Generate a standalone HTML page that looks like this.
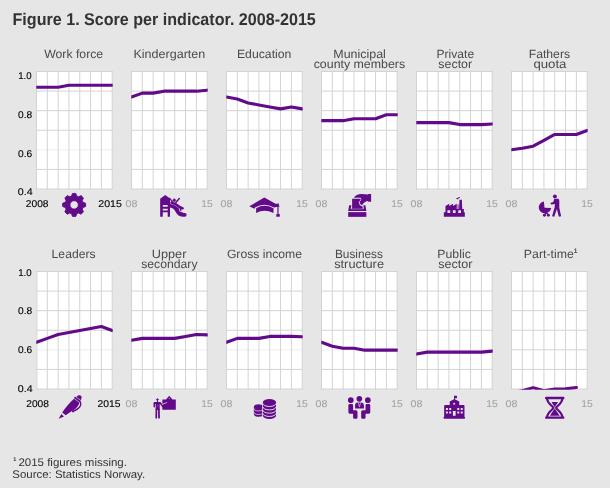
<!DOCTYPE html>
<html><head><meta charset="utf-8"><title>Figure 1. Score per indicator. 2008-2015</title>
<style>html,body{margin:0;padding:0;background:#e6e6e6;}body{width:610px;height:488px;overflow:hidden;font-family:"Liberation Sans",sans-serif;}svg{display:block;will-change:transform;}text{font-family:"Liberation Sans",sans-serif;text-rendering:geometricPrecision;}</style>
</head><body>
<svg width="610" height="488" viewBox="0 0 610 488">
<rect x="0" y="0" width="610" height="488" fill="#e6e6e6"/>
<text x="12.54" y="24.90" font-size="17" fill="#333333" text-anchor="start" textLength="303.28" lengthAdjust="spacingAndGlyphs" font-weight="bold">Figure 1. Score per indicator. 2008-2015</text>
<defs>
<clipPath id="cp0_0"><rect x="36.30" y="68.50" width="76.40" height="121.30"/></clipPath>
<clipPath id="cp0_1"><rect x="131.30" y="68.50" width="76.40" height="121.30"/></clipPath>
<clipPath id="cp0_2"><rect x="226.30" y="68.50" width="76.40" height="121.30"/></clipPath>
<clipPath id="cp0_3"><rect x="321.30" y="68.50" width="76.40" height="121.30"/></clipPath>
<clipPath id="cp0_4"><rect x="416.30" y="68.50" width="76.40" height="121.30"/></clipPath>
<clipPath id="cp0_5"><rect x="511.30" y="68.50" width="76.40" height="121.30"/></clipPath>
<clipPath id="cp1_0"><rect x="36.30" y="268.50" width="76.40" height="121.30"/></clipPath>
<clipPath id="cp1_1"><rect x="131.30" y="268.50" width="76.40" height="121.30"/></clipPath>
<clipPath id="cp1_2"><rect x="226.30" y="268.50" width="76.40" height="121.30"/></clipPath>
<clipPath id="cp1_3"><rect x="321.30" y="268.50" width="76.40" height="121.30"/></clipPath>
<clipPath id="cp1_4"><rect x="416.30" y="268.50" width="76.40" height="121.30"/></clipPath>
<clipPath id="cp1_5"><rect x="511.30" y="268.50" width="76.40" height="121.30"/></clipPath>
</defs>
<rect x="36.50" y="71.50" width="75.70" height="117.50" fill="#ffffff"/>
<path d="M36.50 149.83H112.20" stroke="#d3d3d3" stroke-width="1" stroke-opacity="0.4" fill="none"/>
<path d="M36.50 71.00V189.50M47.31 71.00V189.50M58.13 71.00V189.50M68.94 71.00V189.50M79.76 71.00V189.50M90.57 71.00V189.50M101.39 71.00V189.50M112.20 71.00V189.50M36.00 71.50H112.70M36.00 91.08H112.70M36.00 110.67H112.70M36.00 130.25H112.70M36.00 169.42H112.70M36.00 189.00H112.70" stroke="#d3d3d3" stroke-width="1" fill="none"/>
<polyline points="36.50,87.23 47.31,87.23 58.13,87.23 68.94,85.27 79.76,85.27 90.57,85.27 101.39,85.27 112.20,85.27" fill="none" stroke="#620a8a" stroke-width="3.1" stroke-linejoin="round" stroke-linecap="round" clip-path="url(#cp0_0)"/>
<text x="73.66" y="57.55" font-size="12" fill="#4a4a4a" text-anchor="middle" textLength="59.00" lengthAdjust="spacingAndGlyphs">Work force</text>
<text x="37.17" y="206.80" font-size="9.8" fill="#000000" text-anchor="middle" textLength="22.73" lengthAdjust="spacingAndGlyphs" stroke="#000000" stroke-width="0.12">2008</text>
<text x="110.06" y="206.80" font-size="9.8" fill="#000000" text-anchor="middle" textLength="23.49" lengthAdjust="spacingAndGlyphs" stroke="#000000" stroke-width="0.12">2015</text>
<text x="31.66" y="78.75" font-size="9.8" fill="#000000" text-anchor="end" textLength="13.42" lengthAdjust="spacingAndGlyphs" stroke="#000000" stroke-width="0.12">1.0</text>
<text x="32.23" y="117.70" font-size="9.8" fill="#000000" text-anchor="end" textLength="14.19" lengthAdjust="spacingAndGlyphs" stroke="#000000" stroke-width="0.12">0.8</text>
<text x="32.21" y="156.80" font-size="9.8" fill="#000000" text-anchor="end" textLength="14.16" lengthAdjust="spacingAndGlyphs" stroke="#000000" stroke-width="0.12">0.6</text>
<text x="32.62" y="194.85" font-size="9.8" fill="#000000" text-anchor="end" textLength="14.82" lengthAdjust="spacingAndGlyphs" stroke="#000000" stroke-width="0.12">0.4</text>
<g fill="#620a8a" stroke="none"><path fill-rule="evenodd" stroke="#620a8a" stroke-width="0.9" stroke-linejoin="round" d="M71.45,196.16L72.50,193.42L75.80,193.42L76.85,196.16L78.42,196.81L81.10,195.61L83.44,197.95L82.24,200.63L82.89,202.20L85.63,203.25L85.63,206.55L82.89,207.60L82.24,209.17L83.44,211.85L81.10,214.19L78.42,212.99L76.85,213.64L75.80,216.38L72.50,216.38L71.45,213.64L69.88,212.99L67.20,214.19L64.86,211.85L66.06,209.17L65.41,207.60L62.67,206.55L62.67,203.25L65.41,202.20L66.06,200.63L64.86,197.95L67.20,195.61L69.88,196.81ZM69.95,204.90 A4.20,4.20 0 1 0 78.35,204.90 A4.20,4.20 0 1 0 69.95,204.90 Z"/></g>
<rect x="131.50" y="71.50" width="75.70" height="117.50" fill="#ffffff"/>
<path d="M131.50 149.83H207.20" stroke="#d3d3d3" stroke-width="1" stroke-opacity="0.4" fill="none"/>
<path d="M131.50 71.00V189.50M142.31 71.00V189.50M153.13 71.00V189.50M163.94 71.00V189.50M174.76 71.00V189.50M185.57 71.00V189.50M196.39 71.00V189.50M207.20 71.00V189.50M131.00 71.50H207.70M131.00 91.08H207.70M131.00 110.67H207.70M131.00 130.25H207.70M131.00 169.42H207.70M131.00 189.00H207.70" stroke="#d3d3d3" stroke-width="1" fill="none"/>
<polyline points="131.50,97.07 142.31,93.13 153.13,93.13 163.94,91.17 174.76,91.17 185.57,91.17 196.39,91.17 207.20,90.18" fill="none" stroke="#620a8a" stroke-width="3.1" stroke-linejoin="round" stroke-linecap="round" clip-path="url(#cp0_1)"/>
<text x="169.34" y="57.55" font-size="12" fill="#4a4a4a" text-anchor="middle" textLength="71.89" lengthAdjust="spacingAndGlyphs">Kindergarten</text>
<text x="131.50" y="206.60" font-size="9.8" fill="#a3a3a3" text-anchor="middle" textLength="11.90" lengthAdjust="spacingAndGlyphs" stroke="#a3a3a3" stroke-width="0.1">08</text>
<text x="207.10" y="206.60" font-size="9.8" fill="#a3a3a3" text-anchor="middle" textLength="11.50" lengthAdjust="spacingAndGlyphs" stroke="#a3a3a3" stroke-width="0.1">15</text>
<g fill="#620a8a" stroke="none"><g transform="translate(150,188) scale(0.065574)"><path fill-rule="evenodd" d="M155,165 L232,106 L305,160 L305,440 L270,440 L270,370 L195,370 L195,440 L155,440 Z M195,260 H270 V287 H195 Z M195,316 H270 V342 H195 Z"/><path d="M305,240 C355,240 408,262 443,318 C464,353 487,383 530,383 C568,383 568,440 530,440 C455,440 425,420 395,370 C370,325 345,300 305,297 Z"/><path d="M328,224 C372,230 412,254 450,290 L498,310 M394,222 L447,160 M464,305 L470,338" fill="none" stroke="#e6e6e6" stroke-width="46" stroke-linecap="round" stroke-linejoin="round"/><path d="M296,150 L350,222" fill="none" stroke="#620a8a" stroke-width="18" stroke-linecap="butt"/><path d="M370,160 L397,188 L370,215 L343,188 Z" stroke="#620a8a" stroke-width="8" stroke-linejoin="round"/><path d="M394,222 L447,160" fill="none" stroke="#620a8a" stroke-width="22" stroke-linecap="round"/><path d="M328,224 C372,230 412,254 450,290 L498,310" fill="none" stroke="#620a8a" stroke-width="38" stroke-linecap="round" stroke-linejoin="round"/><path d="M464,305 L470,338" fill="none" stroke="#620a8a" stroke-width="24" stroke-linecap="round"/></g></g>
<rect x="226.50" y="71.50" width="75.70" height="117.50" fill="#ffffff"/>
<path d="M226.50 149.83H302.20" stroke="#d3d3d3" stroke-width="1" stroke-opacity="0.4" fill="none"/>
<path d="M226.50 71.00V189.50M237.31 71.00V189.50M248.13 71.00V189.50M258.94 71.00V189.50M269.76 71.00V189.50M280.57 71.00V189.50M291.39 71.00V189.50M302.20 71.00V189.50M226.00 71.50H302.70M226.00 91.08H302.70M226.00 110.67H302.70M226.00 130.25H302.70M226.00 169.42H302.70M226.00 189.00H302.70" stroke="#d3d3d3" stroke-width="1" fill="none"/>
<polyline points="226.50,97.07 237.31,99.03 248.13,102.97 258.94,104.93 269.76,106.90 280.57,108.87 291.39,106.90 302.20,108.87" fill="none" stroke="#620a8a" stroke-width="3.1" stroke-linejoin="round" stroke-linecap="round" clip-path="url(#cp0_2)"/>
<text x="264.15" y="57.55" font-size="12" fill="#4a4a4a" text-anchor="middle" textLength="54.39" lengthAdjust="spacingAndGlyphs">Education</text>
<text x="226.50" y="206.60" font-size="9.8" fill="#a3a3a3" text-anchor="middle" textLength="11.90" lengthAdjust="spacingAndGlyphs" stroke="#a3a3a3" stroke-width="0.1">08</text>
<text x="302.10" y="206.60" font-size="9.8" fill="#a3a3a3" text-anchor="middle" textLength="11.50" lengthAdjust="spacingAndGlyphs" stroke="#a3a3a3" stroke-width="0.1">15</text>
<g fill="#620a8a" stroke="none"><g transform="translate(244,188) scale(0.065574)"><path d="M80,280 L310,145 L550,280 L458,298 Q310,214 168,296 L160,318 Z"/><path d="M185,307 Q310,231 450,307 L450,382 Q310,310 185,382 Z"/><path d="M490,240 L530,235 L535,280 L495,285 Z"/><rect x="506" y="280" width="24" height="125" opacity="0.75"/><rect x="492" y="398" width="54" height="40"/></g></g>
<rect x="321.50" y="71.50" width="75.70" height="117.50" fill="#ffffff"/>
<path d="M321.50 149.83H397.20" stroke="#d3d3d3" stroke-width="1" stroke-opacity="0.4" fill="none"/>
<path d="M321.50 71.00V189.50M332.31 71.00V189.50M343.13 71.00V189.50M353.94 71.00V189.50M364.76 71.00V189.50M375.57 71.00V189.50M386.39 71.00V189.50M397.20 71.00V189.50M321.00 71.50H397.70M321.00 91.08H397.70M321.00 110.67H397.70M321.00 130.25H397.70M321.00 169.42H397.70M321.00 189.00H397.70" stroke="#d3d3d3" stroke-width="1" fill="none"/>
<polyline points="321.50,120.67 332.31,120.67 343.13,120.67 353.94,118.70 364.76,118.70 375.57,118.70 386.39,114.77 397.20,114.77" fill="none" stroke="#620a8a" stroke-width="3.1" stroke-linejoin="round" stroke-linecap="round" clip-path="url(#cp0_3)"/>
<text x="359.60" y="57.55" font-size="12" fill="#4a4a4a" text-anchor="middle" textLength="52.59" lengthAdjust="spacingAndGlyphs">Municipal</text>
<text x="359.40" y="67.65" font-size="12" fill="#4a4a4a" text-anchor="middle" textLength="91.41" lengthAdjust="spacingAndGlyphs">county members</text>
<text x="321.50" y="206.60" font-size="9.8" fill="#a3a3a3" text-anchor="middle" textLength="11.90" lengthAdjust="spacingAndGlyphs" stroke="#a3a3a3" stroke-width="0.1">08</text>
<text x="397.10" y="206.60" font-size="9.8" fill="#a3a3a3" text-anchor="middle" textLength="11.50" lengthAdjust="spacingAndGlyphs" stroke="#a3a3a3" stroke-width="0.1">15</text>
<g fill="#620a8a" stroke="none"><g transform="translate(339,188) scale(0.065574)"><rect x="140" y="368" width="277" height="72"/><path d="M140,350 L155,262 L188,262 L180,318 L378,318 L372,262 L402,262 L417,350 Z"/><path d="M200,165 L325,165 L332,180 L300,215 L318,262 L362,285 L362,318 L200,318 Z"/><path d="M228,150 C250,110 290,92 340,92 L445,100 L445,90 L490,90 L490,210 L445,210 L445,200 C410,200 385,222 350,262 L328,248 L312,215 L342,178 L330,150 Z"/><path d="M177,300 Q178,329 196,329 L352,329 Q369,329 370,300" fill="none" stroke="#e6e6e6" stroke-width="7" stroke-opacity="0.5"/></g></g>
<rect x="416.50" y="71.50" width="75.70" height="117.50" fill="#ffffff"/>
<path d="M416.50 149.83H492.20" stroke="#d3d3d3" stroke-width="1" stroke-opacity="0.4" fill="none"/>
<path d="M416.50 71.00V189.50M427.31 71.00V189.50M438.13 71.00V189.50M448.94 71.00V189.50M459.76 71.00V189.50M470.57 71.00V189.50M481.39 71.00V189.50M492.20 71.00V189.50M416.00 71.50H492.70M416.00 91.08H492.70M416.00 110.67H492.70M416.00 130.25H492.70M416.00 169.42H492.70M416.00 189.00H492.70" stroke="#d3d3d3" stroke-width="1" fill="none"/>
<polyline points="416.50,122.63 427.31,122.63 438.13,122.63 448.94,122.63 459.76,124.60 470.57,124.60 481.39,124.60 492.20,124.01" fill="none" stroke="#620a8a" stroke-width="3.1" stroke-linejoin="round" stroke-linecap="round" clip-path="url(#cp0_4)"/>
<text x="455.34" y="57.55" font-size="12" fill="#4a4a4a" text-anchor="middle" textLength="37.69" lengthAdjust="spacingAndGlyphs">Private</text>
<text x="455.25" y="67.65" font-size="12" fill="#4a4a4a" text-anchor="middle" textLength="33.73" lengthAdjust="spacingAndGlyphs">sector</text>
<text x="416.50" y="206.60" font-size="9.8" fill="#a3a3a3" text-anchor="middle" textLength="11.90" lengthAdjust="spacingAndGlyphs" stroke="#a3a3a3" stroke-width="0.1">08</text>
<text x="492.10" y="206.60" font-size="9.8" fill="#a3a3a3" text-anchor="middle" textLength="11.50" lengthAdjust="spacingAndGlyphs" stroke="#a3a3a3" stroke-width="0.1">15</text>
<g fill="#620a8a" stroke="none"><g transform="translate(434,188) scale(0.065574)"><path fill-rule="evenodd" d="M150,370 L175,370 L175,275 L232,240 L232,275 L290,240 L290,275 L347,240 L347,320 L383,320 L388,178 L425,178 L430,320 L455,320 L455,370 L470,370 L470,440 L150,440 Z M205,340 H247 V380 H205 Z M288,340 H330 V380 H288 Z M370,340 H412 V380 H370 Z"/><rect x="355" y="250" width="30" height="72" opacity="0.55"/><path d="M335,155 L365,150 L385,138 L400,150 L375,160 L355,175 Z"/></g></g>
<rect x="511.50" y="71.50" width="75.70" height="117.50" fill="#ffffff"/>
<path d="M511.50 149.83H587.20" stroke="#d3d3d3" stroke-width="1" stroke-opacity="0.4" fill="none"/>
<path d="M511.50 71.00V189.50M522.31 71.00V189.50M533.13 71.00V189.50M543.94 71.00V189.50M554.76 71.00V189.50M565.57 71.00V189.50M576.39 71.00V189.50M587.20 71.00V189.50M511.00 71.50H587.70M511.00 91.08H587.70M511.00 110.67H587.70M511.00 130.25H587.70M511.00 169.42H587.70M511.00 189.00H587.70" stroke="#d3d3d3" stroke-width="1" fill="none"/>
<polyline points="511.50,149.77 522.31,148.20 533.13,146.23 543.94,140.33 554.76,134.43 565.57,134.43 576.39,134.43 587.20,130.50" fill="none" stroke="#620a8a" stroke-width="3.1" stroke-linejoin="round" stroke-linecap="round" clip-path="url(#cp0_5)"/>
<text x="549.37" y="57.55" font-size="12" fill="#4a4a4a" text-anchor="middle" textLength="41.39" lengthAdjust="spacingAndGlyphs">Fathers</text>
<text x="549.92" y="67.65" font-size="12" fill="#4a4a4a" text-anchor="middle" textLength="33.01" lengthAdjust="spacingAndGlyphs">quota</text>
<text x="511.50" y="206.60" font-size="9.8" fill="#a3a3a3" text-anchor="middle" textLength="11.90" lengthAdjust="spacingAndGlyphs" stroke="#a3a3a3" stroke-width="0.1">08</text>
<text x="587.10" y="206.60" font-size="9.8" fill="#a3a3a3" text-anchor="middle" textLength="11.50" lengthAdjust="spacingAndGlyphs" stroke="#a3a3a3" stroke-width="0.1">15</text>
<g fill="#620a8a" stroke="none"><g transform="translate(529,188) scale(0.065574)"><path d="M227,207 A95,90 0 1 0 338,305 L237,300 Z"/><path d="M265,375 L235,415 M265,375 L295,415" fill="none" stroke="#620a8a" stroke-width="20" stroke-linecap="round"/><circle cx="235" cy="415" r="22"/><circle cx="295" cy="415" r="22"/><circle cx="395" cy="128" r="30"/><path d="M385,165 L445,165 Q462,170 462,200 L462,300 L490,430 L455,438 L425,320 L385,438 L352,430 L392,290 L395,245 L340,250 L325,228 L370,212 Z"/></g></g>
<rect x="36.50" y="271.50" width="75.70" height="117.50" fill="#ffffff"/>
<path d="M36.50 349.83H112.20" stroke="#d3d3d3" stroke-width="1" stroke-opacity="0.4" fill="none"/>
<path d="M36.95 271.00V389.50M47.31 271.00V389.50M58.13 271.00V389.50M68.94 271.00V389.50M79.76 271.00V389.50M90.57 271.00V389.50M101.39 271.00V389.50M112.20 271.00V389.50M36.00 271.50H112.70M36.00 291.08H112.70M36.00 310.67H112.70M36.00 330.25H112.70M36.00 369.42H112.70M36.00 389.00H112.70" stroke="#d3d3d3" stroke-width="1" fill="none"/>
<polyline points="36.50,342.30 47.31,338.37 58.13,334.43 68.94,332.47 79.76,330.50 90.57,328.53 101.39,326.57 112.20,330.50" fill="none" stroke="#620a8a" stroke-width="3.1" stroke-linejoin="round" stroke-linecap="round" clip-path="url(#cp1_0)"/>
<text x="73.59" y="257.55" font-size="12" fill="#4a4a4a" text-anchor="middle" textLength="43.93" lengthAdjust="spacingAndGlyphs">Leaders</text>
<text x="37.62" y="406.80" font-size="9.8" fill="#000000" text-anchor="middle" textLength="22.73" lengthAdjust="spacingAndGlyphs" stroke="#000000" stroke-width="0.12">2008</text>
<text x="109.06" y="406.80" font-size="9.8" fill="#000000" text-anchor="middle" textLength="23.02" lengthAdjust="spacingAndGlyphs" stroke="#000000" stroke-width="0.12">2015</text>
<text x="31.66" y="275.75" font-size="9.8" fill="#000000" text-anchor="end" textLength="13.42" lengthAdjust="spacingAndGlyphs" stroke="#000000" stroke-width="0.12">1.0</text>
<text x="32.23" y="313.75" font-size="9.8" fill="#000000" text-anchor="end" textLength="14.19" lengthAdjust="spacingAndGlyphs" stroke="#000000" stroke-width="0.12">0.8</text>
<text x="32.21" y="352.75" font-size="9.8" fill="#000000" text-anchor="end" textLength="14.16" lengthAdjust="spacingAndGlyphs" stroke="#000000" stroke-width="0.12">0.6</text>
<text x="32.62" y="391.75" font-size="9.8" fill="#000000" text-anchor="end" textLength="14.82" lengthAdjust="spacingAndGlyphs" stroke="#000000" stroke-width="0.12">0.4</text>
<g fill="#620a8a" stroke="none"><g transform="translate(54,388) scale(0.065574)"><path d="M72,470 L112,395 L152,435 Z"/><path d="M125,372 C180,290 250,210 305,163 L385,222 C382,270 345,312 290,338 L178,415 Z"/><path d="M304,151 L320,130 L412,199 L396,221 Z"/><path d="M343,137 C355,113 395,103 412,120 C428,136 420,168 408,187 Z"/><path d="M403,215 C420,265 385,320 300,350" fill="none" stroke="#620a8a" stroke-width="23" stroke-linecap="round"/><circle cx="290" cy="355" r="17"/></g></g>
<rect x="131.50" y="271.50" width="75.70" height="117.50" fill="#ffffff"/>
<path d="M131.50 349.83H207.20" stroke="#d3d3d3" stroke-width="1" stroke-opacity="0.4" fill="none"/>
<path d="M131.50 271.00V389.50M142.31 271.00V389.50M153.13 271.00V389.50M163.94 271.00V389.50M174.76 271.00V389.50M185.57 271.00V389.50M196.39 271.00V389.50M207.20 271.00V389.50M131.00 271.50H207.70M131.00 291.08H207.70M131.00 310.67H207.70M131.00 330.25H207.70M131.00 369.42H207.70M131.00 389.00H207.70" stroke="#d3d3d3" stroke-width="1" fill="none"/>
<polyline points="131.50,340.33 142.31,338.37 153.13,338.37 163.94,338.37 174.76,338.37 185.57,336.40 196.39,334.43 207.20,334.83" fill="none" stroke="#620a8a" stroke-width="3.1" stroke-linejoin="round" stroke-linecap="round" clip-path="url(#cp1_1)"/>
<text x="169.09" y="257.55" font-size="12" fill="#4a4a4a" text-anchor="middle" textLength="34.59" lengthAdjust="spacingAndGlyphs">Upper</text>
<text x="169.35" y="267.65" font-size="12" fill="#4a4a4a" text-anchor="middle" textLength="56.38" lengthAdjust="spacingAndGlyphs">secondary</text>
<text x="131.50" y="406.60" font-size="9.8" fill="#a3a3a3" text-anchor="middle" textLength="11.90" lengthAdjust="spacingAndGlyphs" stroke="#a3a3a3" stroke-width="0.1">08</text>
<text x="207.10" y="406.60" font-size="9.8" fill="#a3a3a3" text-anchor="middle" textLength="11.50" lengthAdjust="spacingAndGlyphs" stroke="#a3a3a3" stroke-width="0.1">15</text>
<g fill="#620a8a" stroke="none"><g transform="translate(144,388) scale(0.065574)"><path fill-rule="evenodd" d="M280,175 L336,175 L385,118 L434,175 L485,175 L485,332 L280,332 Z M385,152 L394,168 L376,168 Z"/><path d="M205,159 L223,177 L205,195 L187,177 Z" stroke="#620a8a" stroke-width="9" stroke-linejoin="round"/><rect x="197" y="190" width="16" height="26"/><path d="M147,238 Q147,213 170,213 L232,213 Q250,213 262,228 L262,244 L147,244 Z"/><path d="M178,230 Q178,213 194,213 L224,213 Q240,213 240,230 L240,335 L178,335 Z"/><path d="M160,228 L157,284" fill="none" stroke="#620a8a" stroke-width="25" stroke-linecap="round"/><path d="M244,226 L290,284" fill="none" stroke="#620a8a" stroke-width="25" stroke-linecap="round"/><path d="M189,325 L187,453 M227,325 L229,453" fill="none" stroke="#620a8a" stroke-width="27" stroke-linecap="round"/><path d="M174,250 L173,294 M244,252 L260,284 M207,338 L207,468" fill="none" stroke="#e6e6e6" stroke-width="5" stroke-opacity="0.5"/><path d="M192,262 L224,284 M224,258 L196,292" fill="none" stroke="#e6e6e6" stroke-width="5" stroke-opacity="0.45"/><path d="M272,252 L352,220" fill="none" stroke="#e6e6e6" stroke-width="11"/></g></g>
<rect x="226.50" y="271.50" width="75.70" height="117.50" fill="#ffffff"/>
<path d="M226.50 349.83H302.20" stroke="#d3d3d3" stroke-width="1" stroke-opacity="0.4" fill="none"/>
<path d="M226.50 271.00V389.50M237.31 271.00V389.50M248.13 271.00V389.50M258.94 271.00V389.50M269.76 271.00V389.50M280.57 271.00V389.50M291.39 271.00V389.50M302.20 271.00V389.50M226.00 271.50H302.70M226.00 291.08H302.70M226.00 310.67H302.70M226.00 330.25H302.70M226.00 369.42H302.70M226.00 389.00H302.70" stroke="#d3d3d3" stroke-width="1" fill="none"/>
<polyline points="226.50,342.30 237.31,338.37 248.13,338.37 258.94,338.37 269.76,336.40 280.57,336.40 291.39,336.40 302.20,336.79" fill="none" stroke="#620a8a" stroke-width="3.1" stroke-linejoin="round" stroke-linecap="round" clip-path="url(#cp1_2)"/>
<text x="264.46" y="257.55" font-size="12" fill="#4a4a4a" text-anchor="middle" textLength="75.17" lengthAdjust="spacingAndGlyphs">Gross income</text>
<text x="226.50" y="406.60" font-size="9.8" fill="#a3a3a3" text-anchor="middle" textLength="11.90" lengthAdjust="spacingAndGlyphs" stroke="#a3a3a3" stroke-width="0.1">08</text>
<text x="302.10" y="406.60" font-size="9.8" fill="#a3a3a3" text-anchor="middle" textLength="11.50" lengthAdjust="spacingAndGlyphs" stroke="#a3a3a3" stroke-width="0.1">15</text>
<g fill="#620a8a" stroke="none"><g transform="translate(244,388) scale(0.065574)"><path d="M288,215 A100,46 0 0 1 488,215 L488,425 A100,46 0 0 1 288,425 Z"/><path d="M288,236 A100,46 0 0 0 488,236" fill="none" stroke="#e6e6e6" stroke-width="14"/><path d="M288,288 A100,46 0 0 0 488,288" fill="none" stroke="#e6e6e6" stroke-width="14"/><path d="M288,338 A100,46 0 0 0 488,338" fill="none" stroke="#e6e6e6" stroke-width="14"/><path d="M288,388 A100,46 0 0 0 488,388" fill="none" stroke="#e6e6e6" stroke-width="14"/><clipPath id="cl8"><rect x="100" y="200" width="176" height="300"/></clipPath><g clip-path="url(#cl8)"><path d="M150,290 A72,42 0 0 1 294,290 L294,398 A72,42 0 0 1 150,398 Z"/><path d="M150,308 A72,42 0 0 0 294,308" fill="none" stroke="#e6e6e6" stroke-width="11"/><path d="M150,362 A72,42 0 0 0 294,362" fill="none" stroke="#e6e6e6" stroke-width="11"/></g></g></g>
<rect x="321.50" y="271.50" width="75.70" height="117.50" fill="#ffffff"/>
<path d="M321.50 349.83H397.20" stroke="#d3d3d3" stroke-width="1" stroke-opacity="0.4" fill="none"/>
<path d="M321.50 271.00V389.50M332.31 271.00V389.50M343.13 271.00V389.50M353.94 271.00V389.50M364.76 271.00V389.50M375.57 271.00V389.50M386.39 271.00V389.50M397.20 271.00V389.50M321.00 271.50H397.70M321.00 291.08H397.70M321.00 310.67H397.70M321.00 330.25H397.70M321.00 369.42H397.70M321.00 389.00H397.70" stroke="#d3d3d3" stroke-width="1" fill="none"/>
<polyline points="321.50,342.30 332.31,346.23 343.13,348.20 353.94,348.20 364.76,350.17 375.57,350.17 386.39,350.17 397.20,350.17" fill="none" stroke="#620a8a" stroke-width="3.1" stroke-linejoin="round" stroke-linecap="round" clip-path="url(#cp1_3)"/>
<text x="358.94" y="257.55" font-size="12" fill="#4a4a4a" text-anchor="middle" textLength="48.09" lengthAdjust="spacingAndGlyphs">Business</text>
<text x="359.09" y="267.65" font-size="12" fill="#4a4a4a" text-anchor="middle" textLength="49.89" lengthAdjust="spacingAndGlyphs">structure</text>
<text x="321.50" y="406.60" font-size="9.8" fill="#a3a3a3" text-anchor="middle" textLength="11.90" lengthAdjust="spacingAndGlyphs" stroke="#a3a3a3" stroke-width="0.1">08</text>
<text x="397.10" y="406.60" font-size="9.8" fill="#a3a3a3" text-anchor="middle" textLength="11.50" lengthAdjust="spacingAndGlyphs" stroke="#a3a3a3" stroke-width="0.1">15</text>
<g fill="#620a8a" stroke="none"><g transform="translate(339,388) scale(0.065574)"><circle cx="180" cy="185" r="43"/><circle cx="440" cy="185" r="43"/><circle cx="310" cy="165" r="43"/><path d="M143,265 Q143,245 165,245 L195,245 Q215,245 215,265 L215,340 L260,340 Q282,340 282,365 L282,450 Q282,468 262,468 L235,468 Q215,468 215,450 L215,392 L165,392 Q143,392 143,370 Z"/><path d="M477,265 Q477,245 455,245 L425,245 Q405,245 405,265 L405,340 L360,340 Q338,340 338,365 L338,450 Q338,468 358,468 L385,468 Q405,468 405,450 L405,392 L455,392 Q477,392 477,370 Z"/><path d="M245,312 L245,262 Q245,228 280,222 L340,222 Q380,228 380,262 L380,312 Z"/><path d="M293,222 L312,288 L330,222" fill="none" stroke="#e6e6e6" stroke-width="9"/></g></g>
<rect x="416.50" y="271.50" width="75.70" height="117.50" fill="#ffffff"/>
<path d="M416.50 349.83H492.20" stroke="#d3d3d3" stroke-width="1" stroke-opacity="0.4" fill="none"/>
<path d="M416.50 271.00V389.50M427.31 271.00V389.50M438.13 271.00V389.50M448.94 271.00V389.50M459.76 271.00V389.50M470.57 271.00V389.50M481.39 271.00V389.50M492.20 271.00V389.50M416.00 271.50H492.70M416.00 291.08H492.70M416.00 310.67H492.70M416.00 330.25H492.70M416.00 369.42H492.70M416.00 389.00H492.70" stroke="#d3d3d3" stroke-width="1" fill="none"/>
<polyline points="416.50,354.10 427.31,352.13 438.13,352.13 448.94,352.13 459.76,352.13 470.57,352.13 481.39,352.13 492.20,351.15" fill="none" stroke="#620a8a" stroke-width="3.1" stroke-linejoin="round" stroke-linecap="round" clip-path="url(#cp1_4)"/>
<text x="454.04" y="257.55" font-size="12" fill="#4a4a4a" text-anchor="middle" textLength="33.48" lengthAdjust="spacingAndGlyphs">Public</text>
<text x="455.37" y="267.65" font-size="12" fill="#4a4a4a" text-anchor="middle" textLength="34.44" lengthAdjust="spacingAndGlyphs">sector</text>
<text x="416.50" y="406.60" font-size="9.8" fill="#a3a3a3" text-anchor="middle" textLength="11.90" lengthAdjust="spacingAndGlyphs" stroke="#a3a3a3" stroke-width="0.1">08</text>
<text x="492.10" y="406.60" font-size="9.8" fill="#a3a3a3" text-anchor="middle" textLength="11.50" lengthAdjust="spacingAndGlyphs" stroke="#a3a3a3" stroke-width="0.1">15</text>
<g fill="#620a8a" stroke="none"><g transform="translate(434,388) scale(0.065574)"><path fill-rule="evenodd" d="M140,455 L155,440 L155,275 Q155,260 170,260 L240,260 L240,205 L305,172 L305,118 L350,118 L350,155 L318,155 L318,172 L385,205 L385,260 L450,260 Q465,260 465,275 L465,440 L478,455 L465,468 L155,468 Z M182,305 H212 V335 H182 Z M232,305 H262 V335 H232 Z M355,305 H385 V335 H355 Z M408,305 H438 V335 H408 Z M182,360 H212 V388 H182 Z M232,360 H262 V388 H232 Z M355,360 H385 V388 H355 Z M408,360 H438 V388 H408 Z M288,350 H330 V425 H288 Z M293,240 A15,15 0 1 0 323,240 A15,15 0 1 0 293,240 Z"/></g></g>
<rect x="511.50" y="271.50" width="75.70" height="117.50" fill="#ffffff"/>
<path d="M511.50 271.00V389.50M522.31 271.00V389.50M533.13 271.00V389.50M543.94 271.00V389.50M554.76 271.00V389.50M565.57 271.00V389.50M576.39 271.00V389.50M587.20 271.00V389.50M511.00 271.50H587.70M511.00 291.08H587.70M511.00 310.67H587.70M511.00 330.25H587.70M511.00 349.83H587.70M511.00 369.42H587.70M511.00 389.00H587.70" stroke="#d3d3d3" stroke-width="1" fill="none"/>
<polyline points="511.50,392.84 522.31,390.78 533.13,387.63 543.94,390.78 554.76,389.07 565.57,388.91 576.39,387.44" fill="none" stroke="#620a8a" stroke-width="3.1" stroke-linejoin="round" stroke-linecap="round" clip-path="url(#cp1_5)"/>
<text x="523.86" y="257.55" font-size="12" fill="#4a4a4a" text-anchor="start" textLength="49.99" lengthAdjust="spacingAndGlyphs">Part-time</text>
<text x="573.70" y="253.15" font-size="6.5" font-weight="bold" fill="#4a4a4a">1</text>
<text x="511.50" y="406.60" font-size="9.8" fill="#a3a3a3" text-anchor="middle" textLength="11.90" lengthAdjust="spacingAndGlyphs" stroke="#a3a3a3" stroke-width="0.1">08</text>
<text x="587.10" y="406.60" font-size="9.8" fill="#a3a3a3" text-anchor="middle" textLength="11.50" lengthAdjust="spacingAndGlyphs" stroke="#a3a3a3" stroke-width="0.1">15</text>
<g fill="#620a8a" stroke="none"><g transform="translate(529,388) scale(0.065574)"><rect x="245" y="135" width="295" height="36" rx="12"/><rect x="245" y="434" width="295" height="36" rx="12"/><path d="M275,165 C285,240 360,270 372,302 C360,335 285,365 275,440 M510,165 C500,240 425,270 413,302 C425,335 500,365 510,440" fill="none" stroke="#620a8a" stroke-width="32"/><path d="M343,213 L442,213 L392,295 Z"/><path d="M392,312 L468,422 L318,422 Z"/></g></g>
<text x="13.2" y="461.4" font-size="5.5" font-weight="bold" fill="#333333">1</text>
<text x="18.41" y="465.80" font-size="11" fill="#333333" text-anchor="start" textLength="108.54" lengthAdjust="spacingAndGlyphs">2015 figures missing.</text>
<text x="12.31" y="478.20" font-size="11" fill="#333333" text-anchor="start" textLength="132.78" lengthAdjust="spacingAndGlyphs">Source: Statistics Norway.</text>
</svg>
</body></html>
